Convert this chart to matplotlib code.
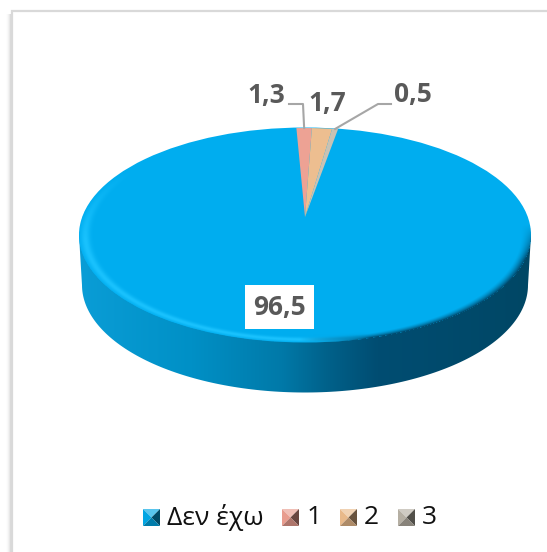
import numpy as np
import matplotlib
matplotlib.use('Agg')
import matplotlib.pyplot as plt
from matplotlib.patches import Ellipse, Polygon, PathPatch
from matplotlib.path import Path
from matplotlib.colors import LinearSegmentedColormap, to_rgb

categories = ['Δεν έχω', '1', '2', '3']
values = [96.5, 1.3, 1.7, 0.5]
value_labels = ['96,5', '1,3', '1,7', '0,5']
face_colors = ['#00ADEF', '#EDA294', '#EDBE90', '#C9C2B4']
swatch_colors = ['#00A5E3', '#E89C8E', '#E8B98A', '#B5AFA3']

W, H = 547, 552
first_angle = 10.0  # degrees, clockwise from 12 o'clock

# pie geometry in pixels, the top face is a perspective view of a circle
apex_x, apex_y = 305, 217
persp_a, persp_b, persp_k = 222.6, 104.3, 0.172
top_cy, top_a, top_b = 235, 226, 107.5
depth_cy, depth_a, depth_b = 285, 223, 107.5


def rim_point(angle, r=1.0):
    # angle in degrees clockwise from the top of the circle
    u = r * np.sin(np.radians(angle))
    v = r * np.cos(np.radians(angle))
    w = 1 + persp_k * v
    return apex_x + persp_a * u / w, apex_y - persp_b * v / w


def swatch(ax, x0, y0, size, color):
    # bevelled legend square, four shaded triangles
    base = np.array(to_rgb(color))
    light = base + (1 - base) * 0.35
    dark = base * 0.45
    mid = base * 0.75
    c = (x0 + size / 2, y0 + size / 2)
    tl, tr = (x0, y0), (x0 + size, y0)
    bl, br = (x0, y0 + size), (x0 + size, y0 + size)
    for pts, col in [([tl, tr, c], light), ([tl, bl, c], base),
                     ([tr, br, c], dark), ([bl, br, c], mid)]:
        ax.add_patch(Polygon(pts, closed=True, fc=col, ec='none', zorder=6))


plt.rcParams['font.family'] = ['Open Sans', 'DejaVu Sans']
fig = plt.figure(figsize=(W / 100, H / 100), dpi=100)
ax = fig.add_axes([0, 0, 1, 1])
ax.set_xlim(0, W)
ax.set_ylim(H, 0)
ax.axis('off')

# frame of the chart area, only top and left are in view, with soft shadow
shadow = np.zeros((H, 12, 4))
shadow[:, :, :3] = 0.55
shadow[14:, :, 3] = np.clip((np.arange(12) - 5) / 6, 0, 1) ** 2 * 0.45
ax.imshow(shadow, extent=[0, 12, H, 0], aspect='auto', zorder=1, interpolation='bilinear')
ax.plot([11.5, 11.5, W], [H, 10.5, 10.5], color='#D9D9D9', lw=1.6, zorder=2,
        solid_joinstyle='miter')

# side wall of the pie
t = np.linspace(0, np.pi, 150)
low_x = apex_x + depth_a * np.cos(t)
low_y = depth_cy + depth_b * np.sin(t)
wall = np.vstack([[[apex_x + top_a, top_cy]],
                  np.column_stack([low_x, low_y]),
                  [[apex_x - top_a, top_cy], [apex_x + top_a, top_cy]]])
side_cmap = LinearSegmentedColormap.from_list('side', [
    (0.0, '#0A9DD6'), (0.25, '#0090C6'), (0.45, '#0079A8'),
    (0.55, '#00618A'), (0.66, '#004D72'), (1.0, '#004765')])
im = ax.imshow(np.linspace(0, 1, 256)[None, :], cmap=side_cmap,
               extent=[apex_x - top_a, apex_x + top_a, 400, 230], aspect='auto', zorder=3)
im.set_clip_path(PathPatch(Path(wall, closed=True), transform=ax.transData))

# top face, slices come from the values
ax.add_patch(Ellipse((apex_x, top_cy), 2 * top_a, 2 * top_b, fc=face_colors[0], ec='none', zorder=4))
edges = first_angle + 3.6 * np.cumsum([0] + values)
for i in range(1, len(values)):
    a = np.linspace(edges[i], edges[i + 1], 12)
    xs, ys = rim_point(a)
    ax.fill(np.r_[apex_x, xs], np.r_[apex_y, ys], color=face_colors[i], lw=0, zorder=5)

# bevel on the rim, light on the left and dark on the right
gx, gy = np.meshgrid(np.arange(W) + 0.5, np.arange(H) + 0.5)
r = np.sqrt(((gx - apex_x) / top_a) ** 2 + ((gy - top_cy) / top_b) ** 2)
shade = np.zeros((H, W, 4))
to_dark = np.clip((gx - 300) / 70, 0, 1)
glow = np.exp(-((r - 0.972) / 0.02) ** 2) * (1 - to_dark) * np.clip((gy - 170) / 70, 0, 1)
edge_dark = np.clip((r - 0.955) / 0.045, 0, 1) ** 1.5 * to_dark * np.clip((gy - 225) / 35, 0, 1)
light_c = np.array(to_rgb('#1CC4FF'))
dark_c = np.array(to_rgb('#004A6E'))
shade[..., :3] = light_c * (1 - to_dark[..., None]) + dark_c * to_dark[..., None]
shade[..., 3] = np.clip(glow * 0.9 + edge_dark, 0, 1)
shade[r > 1.0, 3] = 0
ax.imshow(shade, extent=[0, W, H, 0], aspect='auto', zorder=5, interpolation='bilinear')
ax.set_xlim(0, W)
ax.set_ylim(H, 0)

# leader lines from the small slices
mids = (edges[:-1] + edges[1:]) / 2
x1, y1 = rim_point(mids[1])
ax.plot([289, 303, x1], [104, 104, y1], color='#A6A6A6', lw=1.5, zorder=6)
x3, y3 = rim_point(mids[3])
ax.plot([391, 378, x3], [104, 104, y3], color='#A6A6A6', lw=1.5, zorder=6)

# data labels
lab_kw = dict(color='#595959', fontweight='bold', fontsize=19, ha='center', va='center', zorder=7)
ax.text(266, 95, value_labels[1], **lab_kw)
ax.text(327, 103.5, value_labels[2], **lab_kw)
ax.text(413, 94.5, value_labels[3], **lab_kw)
ax.add_patch(Polygon([(245, 285), (314, 285), (314, 329), (245, 329)], fc='white', ec='none', zorder=6))
ax.text(279.5, 307, value_labels[0], **lab_kw)

# legend
swatch_x = [143, 282, 340, 398]
text_x = [167, 307, 364, 422]
for name, col, sx, tx in zip(categories, swatch_colors, swatch_x, text_x):
    swatch(ax, sx, 509, 17, col)
    ax.text(tx, 517.5, name, color='#111111', fontsize=19, ha='left', va='center', zorder=7)

fig.savefig('out.png', dpi=100)
